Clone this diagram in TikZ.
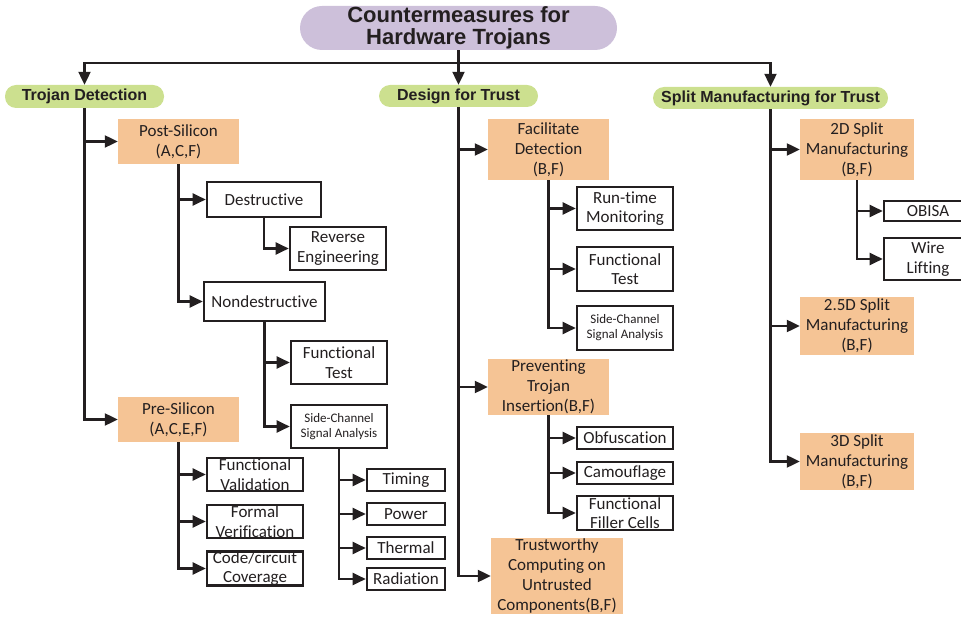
\documentclass[tikz,border=0pt]{standalone}
\usepackage{fontspec}
\setmainfont{Carlito}[Ligatures=NoCommon]
\newfontfamily\headfont{Liberation Sans}
\usetikzlibrary{arrows.meta}
\definecolor{linegray}{HTML}{231F20}
\definecolor{rootpurple}{HTML}{CDC0DA}
\definecolor{catgreen}{HTML}{CCE08F}
\definecolor{suborange}{HTML}{F5C495}
\tikzset{
  root/.style={fill=rootpurple, rounded corners=22pt, inner sep=0pt, align=center,
    text=linegray, font=\headfont\bfseries\fontsize{22}{22.5}\selectfont},
  cat/.style={fill=catgreen, rounded corners=11pt, inner sep=0pt,
    text=linegray, font=\headfont\bfseries\fontsize{16}{18}\selectfont},
  sub/.style={fill=suborange, inner sep=0pt, align=center, text=linegray,
    font=\fontsize{17}{20}\selectfont},
  leaf/.style={draw=linegray, line width=2.6pt, fill=white, inner sep=0pt, align=center,
    text=linegray, font=\fontsize{17}{19.5}\selectfont},
  smalltext/.style={font=\fontsize{13}{15}\selectfont},
  arr/.style={draw=linegray, line width=2.2pt, -{Triangle[length=13pt,width=12pt]}},
}
\begin{document}
\begin{tikzpicture}[x=1pt,y=-1pt]
    \useasboundingbox (0,0) rectangle (961,617);
    \node[root, minimum width=317pt, minimum height=44pt] (root) at (458.5,28) {Countermeasures for\\Hardware Trojans};
    \node[cat, minimum width=159pt, minimum height=23pt] (td) at (84.5,96.5) {Trojan Detection};
    \node[cat, minimum width=159pt, minimum height=22pt] (dft) at (458.5,96) {Design for Trust};
    \node[cat, minimum width=235pt, minimum height=22pt] (smt) at (770.5,98) {Split Manufacturing for Trust};
    \coordinate (bus) at (0,63);

    \node[sub, minimum width=121pt, minimum height=45pt] (post) at (178.5,141.5) {Post-Silicon\\(A,C,F)};
    \node[leaf, minimum width=114pt, minimum height=35pt] (destr) at (264,199.5) {Destructive};
    \node[leaf, minimum width=96pt, minimum height=43pt] (reveng) at (338,248.5) {Reverse\\Engineering};
    \node[leaf, minimum width=121pt, minimum height=39pt] (nondes) at (264.5,301.5) {Nondestructive};
    \node[leaf, minimum width=96pt, minimum height=43pt] (ftestA) at (339,362.5) {Functional\\Test};
    \node[leaf, smalltext, minimum width=96pt, minimum height=43pt] (scaA) at (339,426.5) {Side-Channel\\Signal Analysis};
    \node[leaf, minimum width=78pt, minimum height=22pt] (timing) at (406,480) {Timing};
    \node[leaf, minimum width=78pt, minimum height=22pt] (power) at (406,514) {Power};
    \node[leaf, minimum width=78pt, minimum height=22pt] (thermal) at (406,548) {Thermal};
    \node[leaf, minimum width=78pt, minimum height=22pt] (radiation) at (406,579) {Radiation};
    \node[sub, minimum width=121pt, minimum height=45pt] (pre) at (178.5,419.5) {Pre-Silicon\\(A,C,E,F)};
    \node[leaf, minimum width=96pt, minimum height=33pt] (fval) at (255,474.5) {Functional\\Validation};
    \node[leaf, minimum width=96pt, minimum height=33pt] (fver) at (255,521.5) {Formal\\Verification};
    \node[leaf, minimum width=96pt, minimum height=33pt] (cover) at (255,568.5) {Code/circuit\\Coverage};

    \node[sub, minimum width=121pt, minimum height=61pt] (facil) at (548.5,149.5) {Facilitate\\Detection\\(B,F)};
    \node[leaf, minimum width=96pt, minimum height=43pt] (runtime) at (625,208.5) {Run-time\\Monitoring};
    \node[leaf, minimum width=96pt, minimum height=44pt] (ftestB) at (625,269) {Functional\\Test};
    \node[leaf, smalltext, minimum width=96pt, minimum height=44pt] (scaB) at (625,328) {Side-Channel\\Signal Analysis};
    \node[sub, minimum width=121pt, minimum height=56pt] (prev) at (548.5,387) {Preventing\\Trojan\\Insertion(B,F)};
    \node[leaf, minimum width=96pt, minimum height=22pt] (obf) at (625,438) {Obfuscation};
    \node[leaf, minimum width=96pt, minimum height=22pt] (camo) at (625,473) {Camouflage};
    \node[leaf, minimum width=96pt, minimum height=34pt] (filler) at (625,513) {Functional\\Filler Cells};
    \node[sub, minimum width=132pt, minimum height=76pt] (trust) at (557,576) {Trustworthy\\Computing on\\Untrusted\\Components(B,F)};

    \node[sub, minimum width=114pt, minimum height=61pt] (smA) at (857,149.5) {2D Split\\Manufacturing\\(B,F)};
    \node[leaf, minimum width=88pt, minimum height=20pt] (obisa) at (928,211) {OBISA};
    \node[leaf, minimum width=88pt, minimum height=42pt] (wire) at (928,259) {Wire\\Lifting};
    \node[sub, minimum width=114pt, minimum height=58pt] (smB) at (857,326) {2.5D Split\\Manufacturing\\(B,F)};
    \node[sub, minimum width=114pt, minimum height=57pt] (smC) at (857,461.5) {3D Split\\Manufacturing\\(B,F)};

    \draw[arr] (root.south) -- (root.south |- bus) -| (td.north);
    \draw[arr] (root.south) -- (root.south |- bus) -| (smt.north);
    \draw[arr] (root.south) -- (dft.north);

    \draw[arr] (td.south) |- (post.west);
    \draw[arr] (td.south) |- (pre.west);
    \draw[arr] (post.south) |- (destr.west);
    \draw[arr] (post.south) |- (nondes.west);
    \draw[arr] (destr.south) |- (reveng.west);
    \draw[arr] (nondes.south) |- (ftestA.west);
    \draw[arr] (nondes.south) |- (scaA.west);
    \draw[arr] (scaA.south) |- (timing.west);
    \draw[arr] (scaA.south) |- (power.west);
    \draw[arr] (scaA.south) |- (thermal.west);
    \draw[arr] (scaA.south) |- (radiation.west);
    \draw[arr] (pre.south) |- (fval.west);
    \draw[arr] (pre.south) |- (fver.west);
    \draw[arr] (pre.south) |- (cover.west);

    \draw[arr] (dft.south) |- (facil.west);
    \draw[arr] (dft.south) |- (prev.west);
    \draw[arr] (dft.south) |- (trust.west);
    \draw[arr] (facil.south) |- (runtime.west);
    \draw[arr] (facil.south) |- (ftestB.west);
    \draw[arr] (facil.south) |- (scaB.west);
    \draw[arr] (prev.south) |- (obf.west);
    \draw[arr] (prev.south) |- (camo.west);
    \draw[arr] (prev.south) |- (filler.west);

    \draw[arr] (smt.south) |- (smA.west);
    \draw[arr] (smt.south) |- (smB.west);
    \draw[arr] (smt.south) |- (smC.west);
    \draw[arr] (smA.south) |- (obisa.west);
    \draw[arr] (smA.south) |- (wire.west);
\end{tikzpicture}
\end{document}
